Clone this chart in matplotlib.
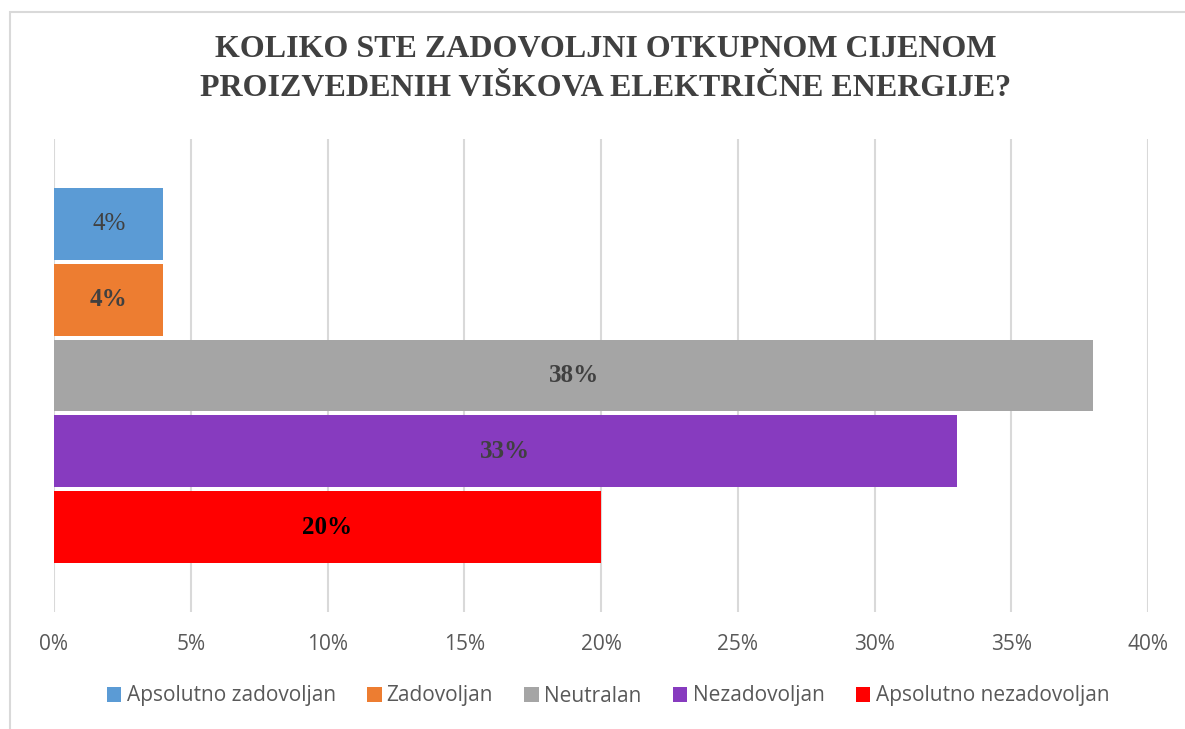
import matplotlib.pyplot as plt
from matplotlib.patches import Rectangle

# Odgovori na anketu (udio ispitanika, %)
kategorije = ['Apsolutno zadovoljan', 'Zadovoljan', 'Neutralan',
              'Nezadovoljan', 'Apsolutno nezadovoljan']
vrijednosti = [4, 4, 38, 33, 20]
boje = ['#5B9BD5', '#ED7D31', '#A5A5A5', '#873BBF', '#FF0000']
boje_oznaka = ['#404040', '#404040', '#404040', '#404040', '#000000']
debljina_oznaka = ['normal', 'bold', 'bold', 'bold', 'bold']
x_oznake = [0, 5, 10, 15, 20, 25, 30, 35, 40]

naslov = 'KOLIKO STE ZADOVOLJNI OTKUPNOM CIJENOM\nPROIZVEDENIH VIŠKOVA ELEKTRIČNE ENERGIJE?'

fig = plt.figure(figsize=(11.85, 7.29), dpi=100)
W, H = 1185, 729
ax = fig.add_axes([54 / W, 1 - 612 / H, (1148 - 54) / W, (612 - 139) / H])

# okvir grafikona
fig.patches.append(Rectangle((10 / W, -0.05), 1.1, 1 - 12 / H + 0.05,
                             transform=fig.transFigure, fill=False,
                             edgecolor='#D9D9D9', lw=1.5, zorder=0))

pozicije = list(range(len(kategorije)))
visina = 72 / 76
for i, (kat, v, b) in enumerate(zip(kategorije, vrijednosti, boje)):
    ax.barh(pozicije[i], v, height=visina, color=b, label=kat, zorder=3)
    ax.text(v / 2, pozicije[i], f'{v}%', ha='center', va='center',
            family='Liberation Serif', fontsize=18,
            fontweight=debljina_oznaka[i], color=boje_oznaka[i], zorder=4)

rub = 49 / 76
ax.set_ylim(len(kategorije) - 1 + visina / 2 + rub, -visina / 2 - rub)
ax.set_xlim(0, 40)
ax.set_xticks(x_oznake)
ax.set_xticklabels([f'{x}%' for x in x_oznake], family='Open Sans',
                   fontsize=15, color='#595959')
ax.set_yticks([])
ax.tick_params(axis='x', length=0, pad=16)
ax.grid(axis='x', color='#D9D9D9', lw=1.5, zorder=0)
for s in ax.spines.values():
    s.set_visible(False)

fig.text(606 / W, 1 - 69 / H, naslov, ha='center', va='center',
         family='Liberation Serif', fontweight='bold', fontsize=23,
         color='#404040', linespacing=1.45)

leg = fig.legend(loc='center', bbox_to_anchor=(608 / W, 1 - 696 / H), ncol=5,
                 frameon=False, handlelength=0.7, handleheight=0.7,
                 handletextpad=0.25, columnspacing=1.5,
                 prop={'family': 'Open Sans', 'size': 15})
for t in leg.get_texts():
    t.set_color('#595959')

fig.savefig('out.png', dpi=100)
